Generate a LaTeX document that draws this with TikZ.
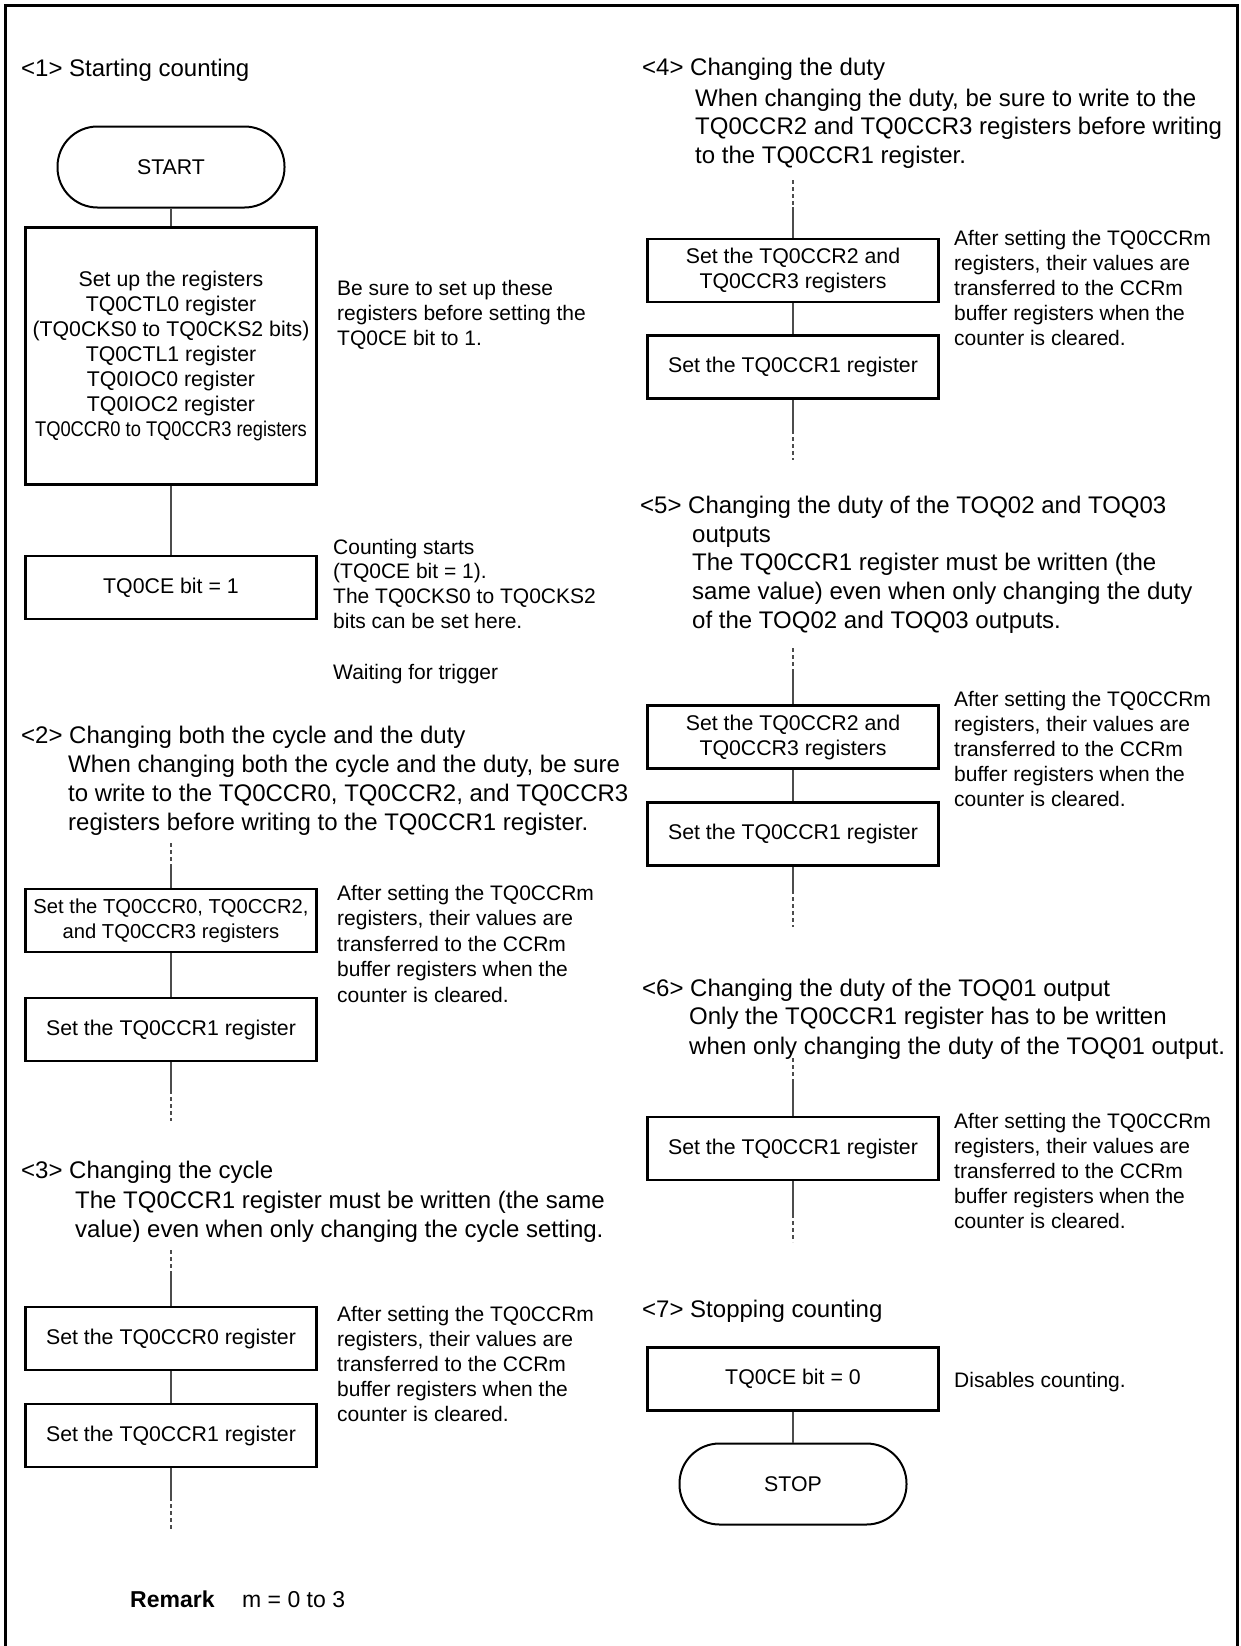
\documentclass[tikz,border=0pt]{standalone}
\usepackage{fontspec}
\setmainfont{Liberation Sans}
\usepackage{graphicx}
\tikzset{
  hd/.style={anchor=base west, inner sep=0pt, align=left, font=\fontsize{24}{29}\selectfont},
  hdm/.style={anchor=north west, inner sep=0pt, align=left, font=\fontsize{24}{29}\selectfont},
  nt/.style={anchor=base west, inner sep=0pt, align=left, font=\fontsize{21}{25}\selectfont},
  ntm/.style={anchor=north west, inner sep=0pt, align=left, font=\fontsize{21}{25}\selectfont},
  pbox/.style={draw, line width=2.5pt, minimum width=291pt, minimum height=63pt, inner sep=0pt, align=center, font=\fontsize{21.3}{25}\selectfont},
  term/.style={draw, line width=2pt, rounded corners=40pt, minimum width=227pt, minimum height=81pt, inner sep=0pt, font=\fontsize{21.3}{25}\selectfont},
  conn/.style={line width=1.3pt, black!70},
  dconn/.style={conn, dash pattern=on 4pt off 3pt},
}
\begin{document}
\begin{tikzpicture}[x=1pt,y=-1pt]
\useasboundingbox (0,0) rectangle (1240,1646);
% frame
\draw[line width=3pt] (5.5,1646) -- (5.5,5.3) -- (1237.5,5.3) -- (1237.5,1646);

% ---------- <1> ----------
\node[hd] (h1) at (21,77) {<1> Starting counting};
\node[term] (start) at (171,167) {START};
\node[pbox, minimum height=257pt] (big) at (171,356) {Set up the registers\\TQ0CTL0 register\\(TQ0CKS0 to TQ0CKS2 bits)\\TQ0CTL1 register\\TQ0IOC0 register\\TQ0IOC2 register\\\scalebox{0.86}[1]{TQ0CCR0 to TQ0CCR3 registers}};
\node[ntm] (n1) at (337,277.5) {\strut Be sure to set up these\\registers before setting the\\TQ0CE bit to 1.};
\node[pbox] (ce1) at (171,587.5) {TQ0CE bit = 1};
\node[ntm, font=\fontsize{21}{24.7}\selectfont] (n2) at (333,536.7) {\strut Counting starts\\(TQ0CE bit = 1).\\The TQ0CKS0 to TQ0CKS2\\bits can be set here.};
\node[nt] (wait) at (333,679) {Waiting for trigger};
\draw[conn] (start.south) -- (big.north);
\draw[conn] (big.south) -- (ce1.north);

% ---------- <2> ----------
\node[hd] (h2) at (21,743) {<2> Changing both the cycle and the duty};
\node[hdm] (h2b) at (68,751.7) {\strut When changing both the cycle and the duty, be sure\\to write to the TQ0CCR0, TQ0CCR2, and TQ0CCR3\\registers before writing to the TQ0CCR1 register.};
\coordinate (d2a) at (171,843);
\coordinate (d2b) at (171,868);
\node[pbox, font=\fontsize{20.2}{25}\selectfont] (b2a) at (171,920.5) {Set the TQ0CCR0, TQ0CCR2,\\and TQ0CCR3 registers};
\node[pbox] (b2b) at (171,1029.5) {Set the TQ0CCR1 register};
\node[ntm, font=\fontsize{21}{25.5}\selectfont] (n3) at (337,882.2) {\strut After setting the TQ0CCRm\\registers, their values are\\transferred to the CCRm\\buffer registers when the\\counter is cleared.};
\coordinate (d2c) at (171,1090);
\coordinate (d2d) at (171,1121);
\draw[dconn] (d2a) -- (d2b);
\draw[conn] (d2b) -- (b2a.north);
\draw[conn] (b2a.south) -- (b2b.north);
\draw[conn] (b2b.south) -- (d2c);
\draw[dconn] (d2c) -- (d2d);

% ---------- <3> ----------
\node[hd] (h3) at (21,1178) {<3> Changing the cycle};
\node[hdm] (h3b) at (75,1187.7) {\strut The TQ0CCR1 register must be written (the same\\value) even when only changing the cycle setting.};
\coordinate (d3a) at (171,1250);
\coordinate (d3b) at (171,1274);
\node[pbox] (b3a) at (171,1338.5) {Set the TQ0CCR0 register};
\node[pbox] (b3b) at (171,1435.5) {Set the TQ0CCR1 register};
\node[ntm] (n4) at (337,1303.5) {\strut After setting the TQ0CCRm\\registers, their values are\\transferred to the CCRm\\buffer registers when the\\counter is cleared.};
\coordinate (d3c) at (171,1497);
\coordinate (d3d) at (171,1529);
\draw[dconn] (d3a) -- (d3b);
\draw[conn] (d3b) -- (b3a.north);
\draw[conn] (b3a.south) -- (b3b.north);
\draw[conn] (b3b.south) -- (d3c);
\draw[dconn] (d3c) -- (d3d);

\node[anchor=base west, inner sep=0pt, font=\bfseries\fontsize{23}{27}\selectfont] (rem) at (130,1607) {Remark};
\node[anchor=base west, inner sep=0pt, font=\fontsize{23}{27}\selectfont] (remt) at (242,1607) {m = 0 to 3};

% ---------- <4> ----------
\node[hd] (h4) at (642,76) {<4> Changing the duty};
\node[hdm, font=\fontsize{24}{28.5}\selectfont] (h4b) at (695,86) {\strut When changing the duty, be sure to write to the\\TQ0CCR2 and TQ0CCR3 registers before writing\\to the TQ0CCR1 register.};
\coordinate (d4a) at (793,180);
\coordinate (d4b) at (793,207);
\node[pbox] (b4a) at (793,270.5) {Set the TQ0CCR2 and\\TQ0CCR3 registers};
\node[pbox] (b4b) at (793,367) {Set the TQ0CCR1 register};
\node[ntm] (n5) at (954,227.5) {\strut After setting the TQ0CCRm\\registers, their values are\\transferred to the CCRm\\buffer registers when the\\counter is cleared.};
\coordinate (d4c) at (793,430);
\coordinate (d4d) at (793,460);
\draw[dconn] (d4a) -- (d4b);
\draw[conn] (d4b) -- (b4a.north);
\draw[conn] (b4a.south) -- (b4b.north);
\draw[conn] (b4b.south) -- (d4c);
\draw[dconn] (d4c) -- (d4d);

% ---------- <5> ----------
\node[hd] (h5) at (640,513) {<5> Changing the duty of the TOQ02 and TOQ03};
\node[hdm, font=\fontsize{24}{28.7}\selectfont] (h5b) at (692,521.9) {\strut outputs\\The TQ0CCR1 register must be written (the\\same value) even when only changing the duty\\of the TOQ02 and TOQ03 outputs.};
\coordinate (d5a) at (793,648);
\coordinate (d5b) at (793,670);
\node[pbox] (b5a) at (793,737) {Set the TQ0CCR2 and\\TQ0CCR3 registers};
\node[pbox] (b5b) at (793,834) {Set the TQ0CCR1 register};
\node[ntm] (n6) at (954,688.5) {\strut After setting the TQ0CCRm\\registers, their values are\\transferred to the CCRm\\buffer registers when the\\counter is cleared.};
\coordinate (d5c) at (793,890);
\coordinate (d5d) at (793,927);
\draw[dconn] (d5a) -- (d5b);
\draw[conn] (d5b) -- (b5a.north);
\draw[conn] (b5a.south) -- (b5b.north);
\draw[conn] (b5b.south) -- (d5c);
\draw[dconn] (d5c) -- (d5d);

% ---------- <6> ----------
\node[hd] (h6) at (642,996) {<6> Changing the duty of the TOQ01 output};
\node[hdm, font=\fontsize{24}{30}\selectfont] (h6b) at (689,1003) {\strut Only the TQ0CCR1 register has to be written\\when only changing the duty of the TOQ01 output.};
\coordinate (d6a) at (793,1058);
\coordinate (d6b) at (793,1083);
\node[pbox] (b6) at (793,1148.5) {Set the TQ0CCR1 register};
\node[ntm] (n7) at (954,1110.5) {\strut After setting the TQ0CCRm\\registers, their values are\\transferred to the CCRm\\buffer registers when the\\counter is cleared.};
\coordinate (d6c) at (793,1214);
\coordinate (d6d) at (793,1242);
\draw[dconn] (d6a) -- (d6b);
\draw[conn] (d6b) -- (b6.north);
\draw[conn] (b6.south) -- (d6c);
\draw[dconn] (d6c) -- (d6d);

% ---------- <7> ----------
\node[hd] (h7) at (642,1317) {<7> Stopping counting};
\node[pbox] (ce0) at (793,1379) {TQ0CE bit = 0};
\node[nt] (n8) at (954,1387) {Disables counting.};
\node[term] (stop) at (793,1484) {STOP};
\draw[conn] (ce0.south) -- (stop.north);
\end{tikzpicture}
\end{document}
